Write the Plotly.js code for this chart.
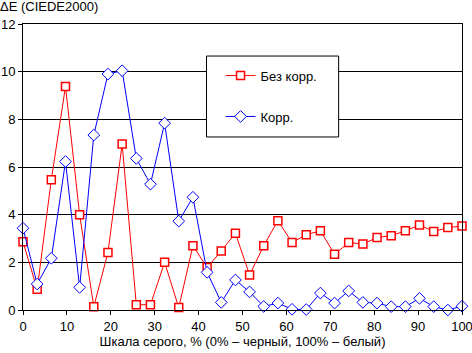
<!DOCTYPE html>
<html>
<head>
<meta charset="utf-8">
<script src="https://cdn.plot.ly/plotly-3.0.1.min.js"></script>
<style>html,body{margin:0;padding:0;background:#fff;}#chart{width:472px;height:353px;}</style>
</head>
<body>
<div id="chart"></div>
<script>
const grayLevels = [0, 3.23, 6.45, 9.68, 12.9, 16.13, 19.35, 22.58, 25.81, 29.03, 32.26, 35.48, 38.71, 41.94, 45.16, 48.39, 51.61, 54.84, 58.06, 61.29, 64.52, 67.74, 70.97, 74.19, 77.42, 80.65, 83.87, 87.1, 90.32, 93.55, 96.77, 100];
const deltaNoCorr = [2.86, 0.87, 5.47, 9.38, 4.0, 0.14, 2.41, 6.96, 0.22, 0.22, 2.0, 0.1, 2.7, 1.78, 2.48, 3.22, 1.47, 2.7, 3.75, 2.83, 3.16, 3.32, 2.34, 2.83, 2.77, 3.04, 3.12, 3.32, 3.57, 3.29, 3.46, 3.52];
const deltaCorr = [3.43, 1.09, 2.17, 6.23, 0.95, 7.34, 9.9, 10.04, 6.36, 5.28, 7.84, 3.73, 4.73, 1.58, 0.32, 1.26, 0.76, 0.15, 0.29, 0.03, 0.02, 0.71, 0.29, 0.8, 0.32, 0.29, 0.14, 0.14, 0.49, 0.14, 0.0, 0.16];
const seriesNames = ["Без корр.", "Корр."];
const xTicks = [0, 10, 20, 30, 40, 50, 60, 70, 80, 90, 100];
const yTicks = [0, 2, 4, 6, 8, 10, 12];

const font = {family: "Liberation Sans, Arial, sans-serif", size: 13, color: "#000"};

const traces = [
  {
    x: grayLevels, y: deltaNoCorr, name: seriesNames[0], legendgroup: "a",
    type: "scatter", mode: "lines+markers", cliponaxis: false,
    line: {color: "#ff0000", width: 1},
    marker: {symbol: "square", size: 8, color: "#ffffff", line: {color: "#ff0000", width: 1.5}}
  },
  {
    x: grayLevels, y: deltaCorr, name: seriesNames[1], legendgroup: "b",
    type: "scatter", mode: "lines+markers", cliponaxis: false,
    line: {color: "#0000ff", width: 1},
    marker: {symbol: "diamond", size: 9, color: "#ffffff", line: {color: "#0000ff", width: 1}}
  }
];

const layout = {
  width: 472, height: 353,
  margin: {l: 23, r: 10, t: 24, b: 43},
  paper_bgcolor: "#fff", plot_bgcolor: "#fff",
  font: font,
  showlegend: true,
  title: {text: "ΔE (CIEDE2000)", x: 0.0, xref: "container", xanchor: "left", y: 0.995, yref: "container", yanchor: "top", font: font},
  xaxis: {
    range: [0, 100], tickvals: xTicks, ticktext: xTicks.map(String),
    showgrid: false, zeroline: false, showline: true, linecolor: "#000", linewidth: 1, mirror: true,
    ticks: "outside", ticklen: 4, tickcolor: "#000", tickfont: font, ticklabeloverflow: "allow",
    title: {text: "Шкала серого, % (0% – черный, 100% – белый)", font: font, standoff: 4}
  },
  yaxis: {
    range: [0, 12], tickvals: yTicks, ticktext: yTicks.map(String),
    showgrid: true, gridcolor: "#000", gridwidth: 1, zeroline: false,
    showline: true, linecolor: "#000", linewidth: 1, mirror: true,
    ticks: "outside", ticklen: 4, tickcolor: "#000", tickfont: font, ticklabeloverflow: "allow"
  },
  shapes: [
    {type: "rect", xref: "paper", yref: "paper", x0: 0.418, x1: 0.719, y0: 0.605, y1: 0.888,
     line: {color: "#000", width: 1}, fillcolor: "#fff", layer: "above"}
  ],
  legend: {
    x: 0.45, y: 0.872, xanchor: "left", yanchor: "top",
    bgcolor: "rgba(0,0,0,0)", borderwidth: 0, tracegroupgap: 21,
    font: font
  }
};

Plotly.newPlot("chart", traces, layout, {displayModeBar: false, staticPlot: true});
</script>
</body>
</html>
